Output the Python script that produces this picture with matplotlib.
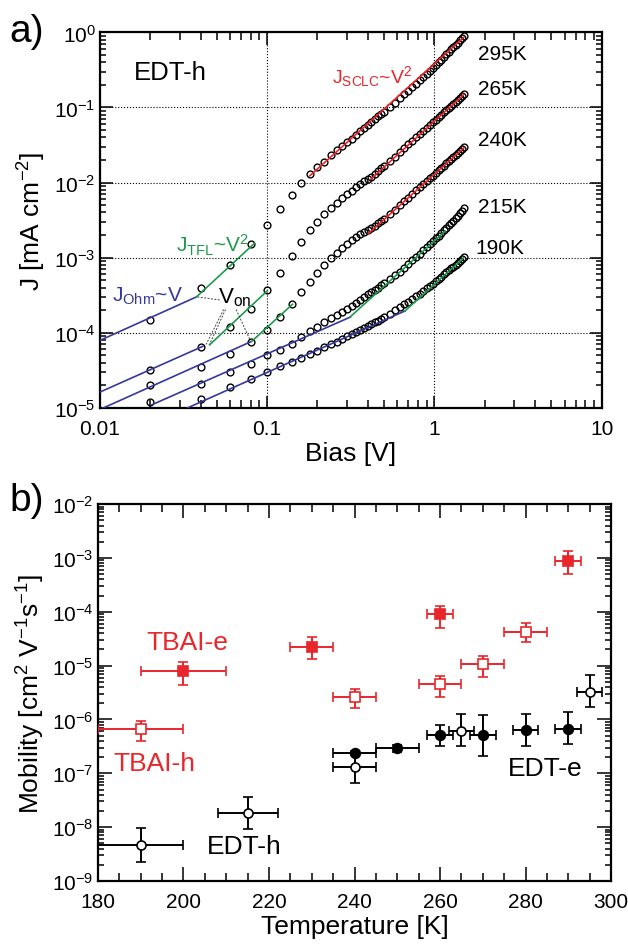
import matplotlib.pyplot as plt
import matplotlib.ticker as ticker
import numpy as np

plt.rcParams['font.family'] = ['Liberation Sans', 'DejaVu Sans']
plt.rcParams['mathtext.fontset'] = 'custom'
plt.rcParams['mathtext.rm'] = 'Liberation Sans'
plt.rcParams['mathtext.it'] = 'Liberation Sans:italic'
plt.rcParams['mathtext.default'] = 'regular'

# ---- panel a) J-V curves (EDT-h) ----
bias = [0.02, 0.04, 0.06, 0.08, 0.10, 0.12, 0.14, 0.16, 0.18, 0.20,
        0.22, 0.24, 0.26, 0.28, 0.30, 0.32, 0.34, 0.36, 0.38, 0.40,
        0.42, 0.44, 0.46, 0.48, 0.50,
        0.54, 0.58, 0.62, 0.66, 0.70, 0.74, 0.78, 0.82, 0.86, 0.90,
        0.94, 0.98, 1.02, 1.06, 1.10, 1.14, 1.18, 1.22, 1.26, 1.30,
        1.34, 1.38, 1.42, 1.46, 1.50]

J_295 = [1.5e-4, 3.9e-4, 8.1e-4, 1.5e-3, 2.7e-3, 4.5e-3, 6.8e-3, 9.9e-3, 1.28e-2, 1.62e-2,
         1.9e-2, 2.35e-2, 2.7e-2, 3.05e-2, 3.45e-2, 3.85e-2, 4.3e-2, 4.8e-2, 5.3e-2, 5.8e-2,
         6.4e-2, 7.0e-2, 7.6e-2, 8.2e-2, 8.8e-2,
         0.101, 0.116, 0.132, 0.150, 0.168, 0.188, 0.208, 0.231, 0.255, 0.280,
         0.307, 0.336, 0.367, 0.400, 0.435, 0.472, 0.510, 0.550, 0.592, 0.636,
         0.682, 0.730, 0.780, 0.832, 0.890]
J_265 = [3.2e-5, 6.4e-5, 1.2e-4, 2.1e-4, 3.7e-4, 6.2e-4, 1.04e-3, 1.6e-3, 2.3e-3, 3.0e-3,
         3.8e-3, 4.6e-3, 5.4e-3, 6.2e-3, 7.0e-3, 7.8e-3, 8.7e-3, 9.6e-3, 1.05e-2, 1.12e-2,
         1.2e-2, 1.3e-2, 1.42e-2, 1.54e-2, 1.67e-2,
         1.93e-2, 2.22e-2, 2.54e-2, 2.87e-2, 3.23e-2, 3.61e-2, 4.01e-2, 4.44e-2, 4.88e-2, 5.35e-2,
         5.83e-2, 6.34e-2, 6.87e-2, 7.42e-2, 7.99e-2, 8.58e-2, 9.19e-2, 9.82e-2, 0.105, 0.112,
         0.119, 0.126, 0.133, 0.141, 0.150]
J_240 = [2.0e-5, 3.5e-5, 5.2e-5, 7.6e-5, 1.1e-4, 1.6e-4, 2.45e-4, 3.5e-4, 4.8e-4, 6.3e-4,
         8.0e-4, 9.8e-4, 1.15e-3, 1.33e-3, 1.52e-3, 1.72e-3, 1.9e-3, 2.05e-3, 2.2e-3, 2.35e-3,
         2.5e-3, 2.65e-3, 2.85e-3, 3.05e-3, 3.3e-3,
         3.76e-3, 4.34e-3, 4.96e-3, 5.62e-3, 6.32e-3, 7.06e-3, 7.85e-3, 8.67e-3, 9.54e-3, 1.045e-2,
         1.14e-2, 1.24e-2, 1.34e-2, 1.45e-2, 1.56e-2, 1.68e-2, 1.80e-2, 1.92e-2, 2.05e-2, 2.18e-2,
         2.32e-2, 2.46e-2, 2.60e-2, 2.76e-2, 2.98e-2]
J_215 = [1.18e-5, 2.1e-5, 3.0e-5, 3.8e-5, 5.0e-5, 5.9e-5, 7.1e-5, 8.7e-5, 1.04e-4, 1.2e-4,
         1.38e-4, 1.55e-4, 1.72e-4, 1.9e-4, 2.1e-4, 2.3e-4, 2.5e-4, 2.75e-4, 3.0e-4, 3.25e-4,
         3.5e-4, 3.75e-4, 4.0e-4, 4.3e-4, 4.6e-4,
         5.2e-4, 5.8e-4, 6.5e-4, 7.3e-4, 8.2e-4, 9.2e-4, 1.02e-3, 1.13e-3, 1.25e-3, 1.38e-3,
         1.51e-3, 1.65e-3, 1.8e-3, 1.96e-3, 2.13e-3, 2.3e-3, 2.5e-3, 2.7e-3, 2.9e-3, 3.1e-3,
         3.35e-3, 3.6e-3, 3.9e-3, 4.2e-3, 4.6e-3]
J_190 = [6.0e-6, 1.3e-5, 1.9e-5, 2.4e-5, 3.0e-5, 3.6e-5, 4.1e-5, 4.6e-5, 5.2e-5, 5.8e-5,
         6.4e-5, 7.0e-5, 7.6e-5, 8.3e-5, 9.0e-5, 9.6e-5, 1.02e-4, 1.08e-4, 1.15e-4, 1.22e-4,
         1.3e-4, 1.38e-4, 1.45e-4, 1.53e-4, 1.62e-4,
         1.8e-4, 2.0e-4, 2.2e-4, 2.4e-4, 2.6e-4, 2.8e-4, 3.05e-4, 3.3e-4, 3.6e-4, 3.9e-4,
         4.2e-4, 4.5e-4, 4.85e-4, 5.2e-4, 5.6e-4, 6.0e-4, 6.4e-4, 6.8e-4, 7.2e-4, 7.6e-4,
         8.0e-4, 8.5e-4, 9.0e-4, 9.6e-4, 1.03e-3]

curves = [J_295, J_265, J_240, J_215, J_190]
temps = ['295K', '265K', '240K', '215K', '190K']
temp_label_pos = [(1.82, 0.52), (1.82, 0.177), (1.82, 0.037), (1.82, 4.8e-3), (1.77, 1.37e-3)]

# fit segments (V start/end, J start/end)
ohm_V = [[0.01, 0.0378], [0.01, 0.0413], [0.01, 0.080], [0.0205, 0.315], [0.0335, 0.667]]
ohm_J = [[7.9e-5, 3.0e-4], [1.62e-5, 6.6e-5], [9.5e-6, 7.6e-5], [1.1e-5, 1.62e-4], [1.0e-5, 1.95e-4]]
tfl_V = [[0.0378, 0.084], [0.0453, 0.100], [0.081, 0.142], [0.313, 1.16], [0.667, 1.5]]
tfl_J = [[3.0e-4, 1.55e-3], [6.9e-5, 3.6e-4], [7.7e-5, 2.4e-4], [1.62e-4, 2.25e-3], [1.95e-4, 1.0e-3]]
sclc_V = [[0.18, 1.5], [0.415, 1.5], [0.404, 1.5]]
sclc_J = [[1.23e-2, 0.86], [1.1e-2, 0.149], [2.1e-3, 2.9e-2]]

# V_on pointer lines
von_V = [[0.052, 0.0385], [0.055, 0.0432], [0.0564, 0.0453], [0.0653, 0.0793]]
von_J = [[2.73e-4, 3.0e-4], [2.04e-4, 7.0e-5], [2.04e-4, 7.0e-5], [2.04e-4, 7.9e-5]]

# ---- panel b) mobility vs temperature ----
T_tbai_e = [200, 230, 260, 290]
mu_tbai_e = [7.8e-6, 2.2e-5, 9.2e-5, 8.9e-4]
lo_tbai_e = [4.4e-6, 1.3e-5, 5.0e-5, 5.0e-4]
hi_tbai_e = [1.15e-5, 3.4e-5, 1.3e-4, 1.32e-3]
dT_tbai_e = [10, 5, 3, 3]

T_tbai_h = [190, 240, 260, 270, 280]
mu_tbai_h = [6.7e-7, 2.65e-6, 4.5e-6, 1.05e-5, 4.3e-5]
lo_tbai_h = [3.9e-7, 1.6e-6, 2.6e-6, 6.2e-6, 2.7e-5]
hi_tbai_h = [9.3e-7, 3.7e-6, 6.3e-6, 1.5e-5, 6.3e-5]
dT_tbai_h = [10, 5, 5, 5, 5]

T_edt_h = [190, 215, 240, 265, 295]
mu_edt_h = [4.7e-9, 1.86e-8, 1.29e-7, 6.2e-7, 3.2e-6]
lo_edt_h = [2.3e-9, 9.3e-9, 6.5e-8, 3.2e-7, 1.7e-6]
hi_edt_h = [9.8e-9, 3.7e-8, 2.4e-7, 1.26e-6, 6.6e-6]
dT_edt_h = [10, 7, 5, 3, 3]

T_edt_e = [240, 250, 260, 270, 280, 290]
mu_edt_e = [2.43e-7, 2.9e-7, 5.1e-7, 5.1e-7, 6.3e-7, 6.6e-7]
lo_edt_e = [2.2e-7, 2.45e-7, 3.2e-7, 2.1e-7, 3.2e-7, 3.5e-7]
hi_edt_e = [2.65e-7, 3.3e-7, 7.9e-7, 1.2e-6, 1.29e-6, 1.38e-6]
dT_edt_e = [5, 5, 3, 3, 3, 3]

RED = '#e8262b'
BLUE = '#34389a'
GREEN = '#1d9a4a'

fig = plt.figure(figsize=(6.28, 9.53), dpi=100)
ax1 = fig.add_axes([0.159, 0.571, 0.799, 0.394])
ax2 = fig.add_axes([0.156, 0.0745, 0.817, 0.3955])

# panel a
for J in curves:
    ax1.plot(bias, J, 'o', ms=4.9, mfc='none', mec='black', mew=1.0, zorder=2)
for v, j in zip(ohm_V, ohm_J):
    ax1.plot(v, j, color=BLUE, lw=1.2, zorder=3)
for v, j in zip(tfl_V, tfl_J):
    ax1.plot(v, j, color=GREEN, lw=1.2, zorder=3)
for v, j in zip(sclc_V, sclc_J):
    ax1.plot(v, j, color=RED, lw=1.2, zorder=3)
for v, j in zip(von_V, von_J):
    ax1.plot(v, j, color='#444444', lw=0.7, ls=(0, (2, 1.5)), zorder=3)

ax1.set_xscale('log')
ax1.set_yscale('log')
ax1.set_xlim(0.01, 10)
ax1.set_ylim(1e-5, 1)
ax1.xaxis.set_major_formatter(ticker.FuncFormatter(lambda v, p: f'{v:g}'))
ax1.yaxis.set_minor_locator(ticker.LogLocator(base=10, subs=np.arange(2, 10), numticks=100))
ax1.yaxis.set_minor_formatter(ticker.NullFormatter())
ax1.grid(True, which='major', ls=':', color='black', lw=0.8)
ax1.tick_params(which='both', direction='in', top=True, right=True, width=1.1)
ax1.tick_params(which='major', length=9, labelsize=15)
ax1.tick_params(axis='x', which='major', pad=8)
ax1.tick_params(axis='y', which='major', pad=3)
ax1.tick_params(axis='x', which='minor', length=6)
ax1.tick_params(axis='y', which='minor', length=4)
for s in ax1.spines.values():
    s.set_linewidth(1.6)
ax1.set_xlabel('Bias [V]', fontsize=19, labelpad=2)
ax1.set_ylabel('J [mA cm$^{-2}$]', fontsize=19, labelpad=4)

for lab, (x, y) in zip(temps, temp_label_pos):
    ax1.text(x, y, lab, fontsize=15, va='center', ha='left')
ax1.text(0.016, 0.30, 'EDT-h', fontsize=18.5, va='center', ha='left')
ax1.text(0.0118, 3.1e-4, 'J$_{Ohm}$~V', fontsize=15, color=BLUE, va='center', ha='left')
ax1.text(0.0286, 1.5e-3, 'J$_{TFL}$~V$^2$', fontsize=15, color=GREEN, va='center', ha='left')
ax1.text(0.245, 0.27, 'J$_{SCLC}$~V$^2$', fontsize=14, color=RED, va='center', ha='left')
ax1.text(0.051, 3.0e-4, 'V$_{on}$', fontsize=16, color='black', va='center', ha='left')

# panel b
def series(ax, T, mu, lo, hi, dT, marker, color, filled, ms):
    mu = np.array(mu)
    yerr = [mu - np.array(lo), np.array(hi) - mu]
    ax.errorbar(T, mu, yerr=yerr, xerr=dT, fmt=marker, ms=ms,
                mfc=color if filled else 'white', mec=color, mew=1.2,
                ecolor=color, elinewidth=1.4, capsize=3.8, capthick=1.4, zorder=3)

series(ax2, T_tbai_e, mu_tbai_e, lo_tbai_e, hi_tbai_e, dT_tbai_e, 's', RED, True, 6.5)
series(ax2, T_tbai_h, mu_tbai_h, lo_tbai_h, hi_tbai_h, dT_tbai_h, 's', RED, False, 6.5)
series(ax2, T_edt_h, mu_edt_h, lo_edt_h, hi_edt_h, dT_edt_h, 'o', 'black', False, 6.5)
series(ax2, T_edt_e, mu_edt_e, lo_edt_e, hi_edt_e, dT_edt_e, 'o', 'black', True, 7)

ax2.set_yscale('log')
ax2.set_xlim(180, 300)
ax2.set_ylim(1e-9, 1e-2)
ax2.xaxis.set_major_locator(ticker.MultipleLocator(20))
ax2.xaxis.set_minor_locator(ticker.MultipleLocator(5))
ax2.yaxis.set_major_locator(ticker.LogLocator(base=10, numticks=20))
ax2.yaxis.set_minor_locator(ticker.LogLocator(base=10, subs=np.arange(2, 10), numticks=100))
ax2.yaxis.set_minor_formatter(ticker.NullFormatter())
ax2.tick_params(which='both', direction='in', top=True, right=True, width=1.1)
ax2.tick_params(which='major', length=10, labelsize=15)
ax2.tick_params(axis='x', which='major', pad=8)
ax2.tick_params(axis='y', which='major', pad=3)
ax2.tick_params(axis='x', which='minor', length=6)
ax2.tick_params(axis='y', which='minor', length=4)
for s in ax2.spines.values():
    s.set_linewidth(1.6)
ax2.set_xlabel('Temperature [K]', fontsize=19, labelpad=2)
ax2.set_ylabel('Mobility [cm$^2$ V$^{-1}$s$^{-1}$]', fontsize=19, labelpad=4)

ax2.text(201, 2.8e-5, 'TBAI-e', fontsize=19, color=RED, ha='center', va='center')
ax2.text(193.2, 1.55e-7, 'TBAI-h', fontsize=19, color=RED, ha='center', va='center')
ax2.text(214.3, 4.4e-9, 'EDT-h', fontsize=19, color='black', ha='center', va='center')
ax2.text(284.5, 1.25e-7, 'EDT-e', fontsize=19, color='black', ha='center', va='center')

fig.text(0.015, 0.966, 'a)', fontsize=28, va='center', ha='left')
fig.text(0.015, 0.474, 'b)', fontsize=28, va='center', ha='left')

fig.savefig('out.png', dpi=100)
